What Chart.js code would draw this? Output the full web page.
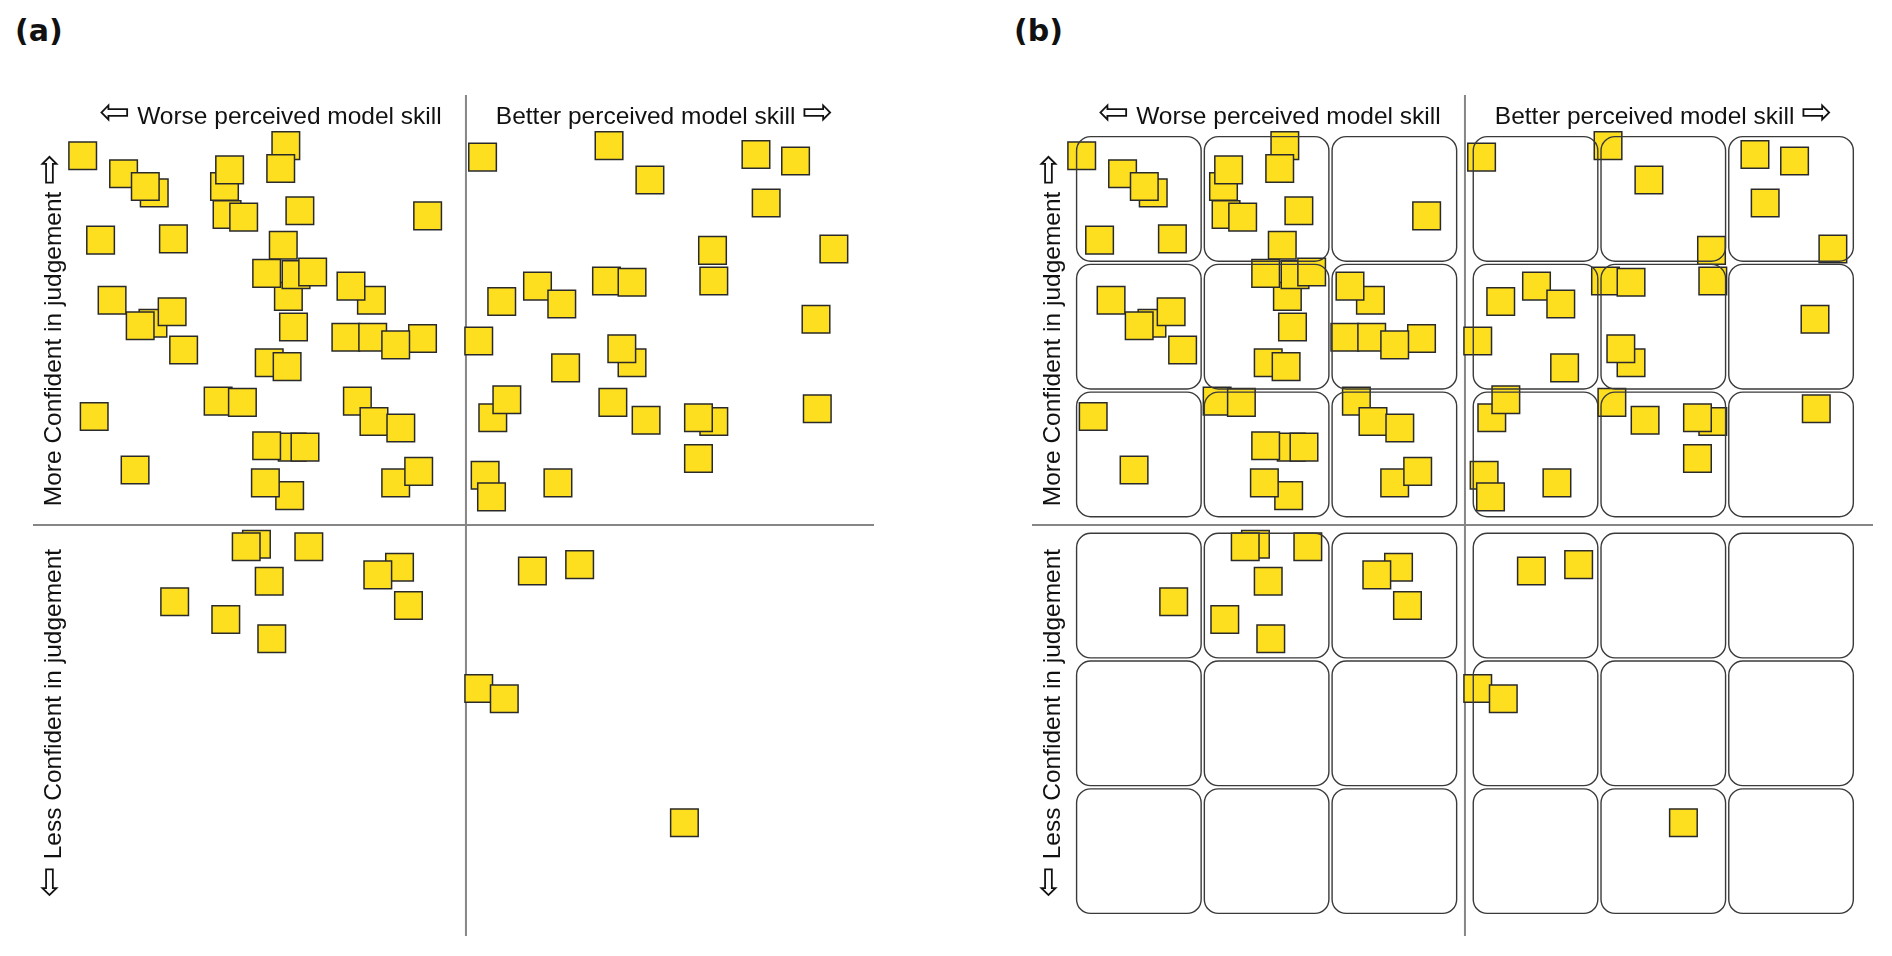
<!DOCTYPE html>
<html>
<head>
<meta charset="utf-8">
<script src="https://cdn.jsdelivr.net/npm/chart.js@4.4.0/dist/chart.umd.min.js"></script>
<style>
  body { margin: 0; background: #fff; width: 1892px; height: 956px; position: relative; overflow: hidden;
         font-family: "Liberation Sans", Arial, sans-serif; color: #111; }
  .panel { position: absolute; top: 95px; width: 841px; height: 841px; }
  .lbl { position: absolute; white-space: nowrap; font-size: 24.5px; line-height: 30px; height: 30px; }
  .arr { font-family: "DejaVu Sans"; font-size: 37px; line-height: 0; }
  .tag { position: absolute; font-family: "DejaVu Sans"; font-weight: bold; font-size: 30px; line-height: 34px; }
</style>
</head>
<body>
<div class="panel" style="left:33px"><canvas id="chartA"></canvas></div>
<div class="panel" style="left:1032px"><canvas id="chartB"></canvas></div>

<script>
// positions of the sticky notes, one array per quadrant (x = skill, y = confidence)
// listed in drawing order, notes lying underneath come first
const upperLeft = [
    [-3.00, 2.89], [-2.68, 2.75], [-2.44, 2.60], [-2.51, 2.65], [-1.41, 2.97], [-1.45, 2.79],
    [-1.89, 2.65], [-1.85, 2.78], [-1.87, 2.43], [-1.74, 2.41], [-1.30, 2.46], [-0.30, 2.42],
    [-2.86, 2.23], [-2.29, 2.24], [-1.39, 1.79], [-1.33, 1.96], [-1.43, 2.19], [-1.56, 1.97],
    [-1.20, 1.98], [-0.74, 1.76], [-0.90, 1.87], [-2.77, 1.76], [-2.45, 1.58], [-2.30, 1.67],
    [-2.55, 1.56], [-2.21, 1.37], [-1.35, 1.55], [-0.94, 1.47], [-0.73, 1.47], [-0.34, 1.46],
    [-0.55, 1.41], [-1.54, 1.27], [-1.40, 1.24], [-1.94, 0.97], [-1.75, 0.96], [-2.91, 0.85],
    [-0.85, 0.97], [-0.72, 0.81], [-0.51, 0.76], [-1.36, 0.61], [-1.56, 0.62], [-1.26, 0.61],
    [-2.59, 0.43], [-1.38, 0.23], [-1.57, 0.33], [-0.55, 0.33], [-0.37, 0.42]
];
const upperRight = [
    [0.13, 2.88], [1.12, 2.97], [1.44, 2.70], [2.27, 2.90], [2.58, 2.85], [2.35, 2.52],
    [1.93, 2.15], [2.88, 2.16], [1.94, 1.91], [0.28, 1.75], [0.56, 1.87], [0.75, 1.73],
    [1.10, 1.91], [1.30, 1.90], [2.74, 1.61], [0.10, 1.44], [0.78, 1.23], [1.30, 1.27],
    [1.22, 1.38], [0.21, 0.84], [0.32, 0.98], [1.15, 0.96], [1.41, 0.82], [1.94, 0.81],
    [1.82, 0.84], [2.75, 0.91], [1.82, 0.52], [0.15, 0.39], [0.20, 0.22], [0.72, 0.33]
];
const lowerLeft = [
    [-1.64, -0.15], [-1.72, -0.17], [-1.23, -0.17], [-0.52, -0.33], [-0.69, -0.39],
    [-1.54, -0.44], [-0.45, -0.63], [-2.28, -0.60], [-1.88, -0.74], [-1.52, -0.89]
];
const lowerRight = [
    [0.52, -0.36], [0.89, -0.31], [0.10, -1.28], [0.30, -1.36], [1.71, -2.33]
];

// axis extent (the grey cross reaches the edges)
const X_MIN = -3.389, X_MAX = 3.194;
const Y_MIN = -3.217, Y_MAX = 3.366;

// 3x3 boxes per quadrant in panel (b)
const cellStarts = [-3.04, -2.04, -1.04, 0.065, 1.065, 2.065];
const cellSize = 0.975;

const points = [...upperLeft, ...upperRight, ...lowerLeft, ...lowerRight].map(p => ({ x: p[0], y: p[1] }));

function roundBox(ctx, x, y, w, h, r) {
    ctx.beginPath();
    ctx.moveTo(x + r, y);
    ctx.arcTo(x + w, y, x + w, y + h, r);
    ctx.arcTo(x + w, y + h, x, y + h, r);
    ctx.arcTo(x, y + h, x, y, r);
    ctx.arcTo(x, y, x + w, y, r);
    ctx.closePath();
    ctx.stroke();
}

const cellBoxes = {
    id: 'cellBoxes',
    afterDatasetsDraw(chart) {
        const ctx = chart.ctx;
        const sx = chart.scales.x, sy = chart.scales.y;
        ctx.save();
        ctx.strokeStyle = '#3a3a3a';
        ctx.lineWidth = 1.4;
        cellStarts.forEach(cx => {
            cellStarts.forEach(cy => {
                const left = sx.getPixelForValue(cx);
                const right = sx.getPixelForValue(cx + cellSize);
                const top = sy.getPixelForValue(cy + cellSize);
                const bottom = sy.getPixelForValue(cy);
                roundBox(ctx, left, top, right - left, bottom - top, 14);
            });
        });
        ctx.restore();
    }
};

function makePanel(id, withCells) {
    return new Chart(document.getElementById(id), {
        type: 'scatter',
        data: {
            datasets: [
                {
                    data: points,
                    pointStyle: 'rect',
                    pointRadius: 19.5,
                    backgroundColor: '#FEDF1F',
                    borderColor: '#2a2a2a',
                    borderWidth: 1.5,
                    clip: false,
                    order: 0
                },
                {
                    type: 'line',
                    data: [{ x: 0, y: Y_MIN }, { x: 0, y: Y_MAX }],
                    borderColor: '#868686',
                    borderWidth: 2,
                    pointRadius: 0,
                    order: 1
                },
                {
                    type: 'line',
                    data: [{ x: X_MIN, y: 0 }, { x: X_MAX, y: 0 }],
                    borderColor: '#868686',
                    borderWidth: 2,
                    pointRadius: 0,
                    order: 1
                }
            ]
        },
        options: {
            responsive: true,
            maintainAspectRatio: false,
            animation: false,
            events: [],
            layout: { padding: 0, autoPadding: false },
            plugins: { legend: { display: false }, tooltip: { enabled: false } },
            scales: {
                x: { type: 'linear', min: X_MIN, max: X_MAX, display: false },
                y: { type: 'linear', min: Y_MIN, max: Y_MAX, display: false }
            }
        },
        plugins: withCells ? [cellBoxes] : []
    });
}

makePanel('chartA', false);
makePanel('chartB', true);

// texts
function addLabel(html, cx, cy, vertical) {
    const el = document.createElement('div');
    el.className = 'lbl';
    el.innerHTML = html;
    el.style.left = cx + 'px';
    el.style.top = cy + 'px';
    el.style.transform = 'translate(-50%, -50%)' + (vertical ? ' rotate(-90deg)' : '');
    document.body.appendChild(el);
}
function addTag(text, x) {
    const el = document.createElement('div');
    el.className = 'tag';
    el.textContent = text;
    el.style.left = x + 'px';
    el.style.top = '14px';
    document.body.appendChild(el);
}

[0, 999].forEach((dx, i) => {
    addTag(i == 0 ? '(a)' : '(b)', 15 + dx);
    addLabel('<span class="arr">⇦</span> Worse perceived model skill', 270.5 + dx, 115.8, false);
    addLabel('Better perceived model skill <span class="arr">⇨</span>', 664.5 + dx, 115.8, false);
    addLabel('More Confident in judgement <span class="arr">⇨</span>', 53 + dx, 330, true);
    addLabel('<span class="arr">⇦</span> Less Confident in judgement', 53 + dx, 723, true);
});
</script>
</body>
</html>
